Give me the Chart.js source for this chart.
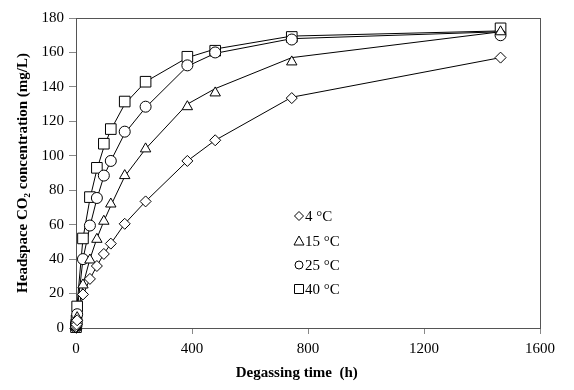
<!DOCTYPE html>
<html>
<head>
<meta charset="utf-8">
<script src="https://cdn.jsdelivr.net/npm/chart.js@4.4.1/dist/chart.umd.min.js"></script>
<style>
  html, body { margin: 0; padding: 0; background: #fff; }
  #wrap { width: 574px; height: 390px; position: relative; }
</style>
</head>
<body>
<div id="wrap"><canvas id="myChart" width="574" height="390"></canvas></div>
<script>
// sampling times (h)
var hours = [0, 1, 2, 4, 24, 48, 72, 96, 120, 168, 240, 384, 480, 744, 1464];

// measured headspace CO2 (mg/L)
var co2_4 = [0.3, 1, 2, 4.5, 19.5, 28.5, 36, 43, 49, 60.5, 73.5, 97, 109, 133.5, 157];
var co2_15 = [0.5, 1, 2.5, 6, 25, 39.5, 51.5, 62, 72, 88.5, 104, 128.5, 136.5, 154.5, 172];
var co2_25 = [0.5, 1.5, 3, 8, 40, 59.5, 75.5, 88.5, 97, 114, 128.5, 152.5, 160, 167.5, 170];
var co2_40 = [0.5, 2, 4.5, 12.5, 52, 76, 93, 107, 115.5, 131.5, 143, 157.5, 161, 169, 174];

// model curves
var fit_4 = [0, 1, 2, 4, 19, 28.5, 36, 43, 49, 60.5, 73.5, 97, 109, 134, 157];
var fit_15 = [0, 1.5, 3, 6, 25, 40, 52, 62, 71, 88, 104, 130, 139, 157, 172];
var fit_25 = [0, 3, 6, 10, 40, 59, 75, 88, 97, 113, 128, 152, 159.5, 168, 172];
var fit_40 = [0, 4, 8, 14, 52, 75, 92, 105, 115, 130, 143, 157, 162, 169.5, 172.5];

var labels = ['4 °C', '15 °C', '25 °C', '40 °C'];
var xTicks = [0, 400, 800, 1200, 1600];

function pts(ys) {
    var out = [];
    for (var i in hours) {
        out.push({x: hours[i], y: ys[i]});
    }
    return out;
}

function lineSet(ys) {
    return {
        type: 'line', data: pts(ys), borderColor: '#000', borderWidth: 1,
        pointRadius: 0, fill: false, tension: 0, order: 2, clip: false
    };
}

function markSet(label, ys, style, r) {
    return {
        type: 'scatter', label: label, data: pts(ys), pointStyle: style, pointRadius: r,
        pointBackgroundColor: '#fff', pointBorderColor: '#000', pointBorderWidth: 1, order: 1, clip: false
    };
}

var fontFam = "'Liberation Serif', 'Times New Roman', serif";
Chart.defaults.font.family = fontFam;
Chart.defaults.font.size = 15;
Chart.defaults.color = '#000';

// box round the plot plus the little legend inside it
var framePlugin = {
    id: 'frame',
    beforeDatasetsDraw: function(chart) {
        var a = chart.chartArea, ctx = chart.ctx;
        ctx.save();
        ctx.strokeStyle = '#555';
        ctx.lineWidth = 1;
        ctx.strokeRect(Math.round(a.left) + 0.5, Math.round(a.top) + 0.5,
            Math.round(a.right - a.left), Math.round(a.bottom - a.top));
        ctx.restore();
    },
    afterDraw: function(chart) {
        var ctx = chart.ctx;
        ctx.save();
        var styles = ['rectRot', 'triangle', 'circle', 'rect'];
        var ys = [216, 241, 265, 289];
        ctx.strokeStyle = '#000';
        ctx.lineWidth = 1;
        ctx.fillStyle = '#000';
        ctx.font = '15px ' + fontFam;
        ctx.textBaseline = 'middle';
        for (var i = 0; i < 4; i++) {
            var x = 299, y = ys[i];
            ctx.beginPath();
            if (styles[i] == 'rectRot') {
                ctx.moveTo(x, y - 4.5); ctx.lineTo(x + 4.5, y); ctx.lineTo(x, y + 4.5); ctx.lineTo(x - 4.5, y); ctx.closePath();
            } else if (styles[i] == 'triangle') {
                ctx.moveTo(x, y - 5); ctx.lineTo(x + 5, y + 4); ctx.lineTo(x - 5, y + 4); ctx.closePath();
            } else if (styles[i] == 'circle') {
                ctx.arc(x, y, 4, 0, Math.PI * 2);
            } else {
                ctx.rect(x - 4.5, y - 4.5, 9, 9);
            }
            ctx.stroke();
            ctx.fillText(labels[i], 305, y + 1);
        }
        ctx.restore();
    }
};

var chartdata = {
    datasets: [
        lineSet(fit_4), lineSet(fit_15), lineSet(fit_25), lineSet(fit_40),
        markSet(labels[0], co2_4, 'rectRot', 5.5),
        markSet(labels[1], co2_15, 'triangle', 6),
        markSet(labels[2], co2_25, 'circle', 5.5),
        markSet(labels[3], co2_40, 'rect', 7.5)
    ]
};

var graphTarget = document.getElementById('myChart');

var chart = new Chart(graphTarget, {
    type: 'scatter',
    data: chartdata,
    plugins: [framePlugin],
    options: {
        responsive: false,
        animation: false,
        layout: {padding: {top: 18, right: 34, left: 0, bottom: 0}},
        plugins: {legend: {display: false}, tooltip: {enabled: false}},
        scales: {
            x: {
                type: 'linear', min: 0, max: 1600,
                afterBuildTicks: function(s) { s.ticks = xTicks.map(function(v) { return {value: v}; }); },
                afterFit: function(s) { s.height = 62; },
                ticks: {padding: 6, maxRotation: 0, callback: function(v) { return String(v); }},
                grid: {drawOnChartArea: false, tickLength: 6, color: '#888'},
                border: {color: '#888'},
                // trailing spaces nudge the title left, as in the original
                title: {display: true, text: 'Degassing time  (h)\u00a0\u00a0\u00a0\u00a0\u00a0\u00a0', font: {weight: 'bold', size: 15}, padding: {top: 4, bottom: 8}}
            },
            y: {
                min: 0, max: 180,
                ticks: {stepSize: 20, padding: 5},
                afterFit: function(s) { s.width = 76; },
                grid: {drawOnChartArea: false, tickLength: 7, color: '#888'},
                border: {color: '#888'},
                title: {display: true, text: 'Headspace CO₂ concentration (mg/L)', font: {weight: 'bold', size: 15}, padding: {top: 14, bottom: 0}}
            }
        }
    }
});
</script>
</body>
</html>
